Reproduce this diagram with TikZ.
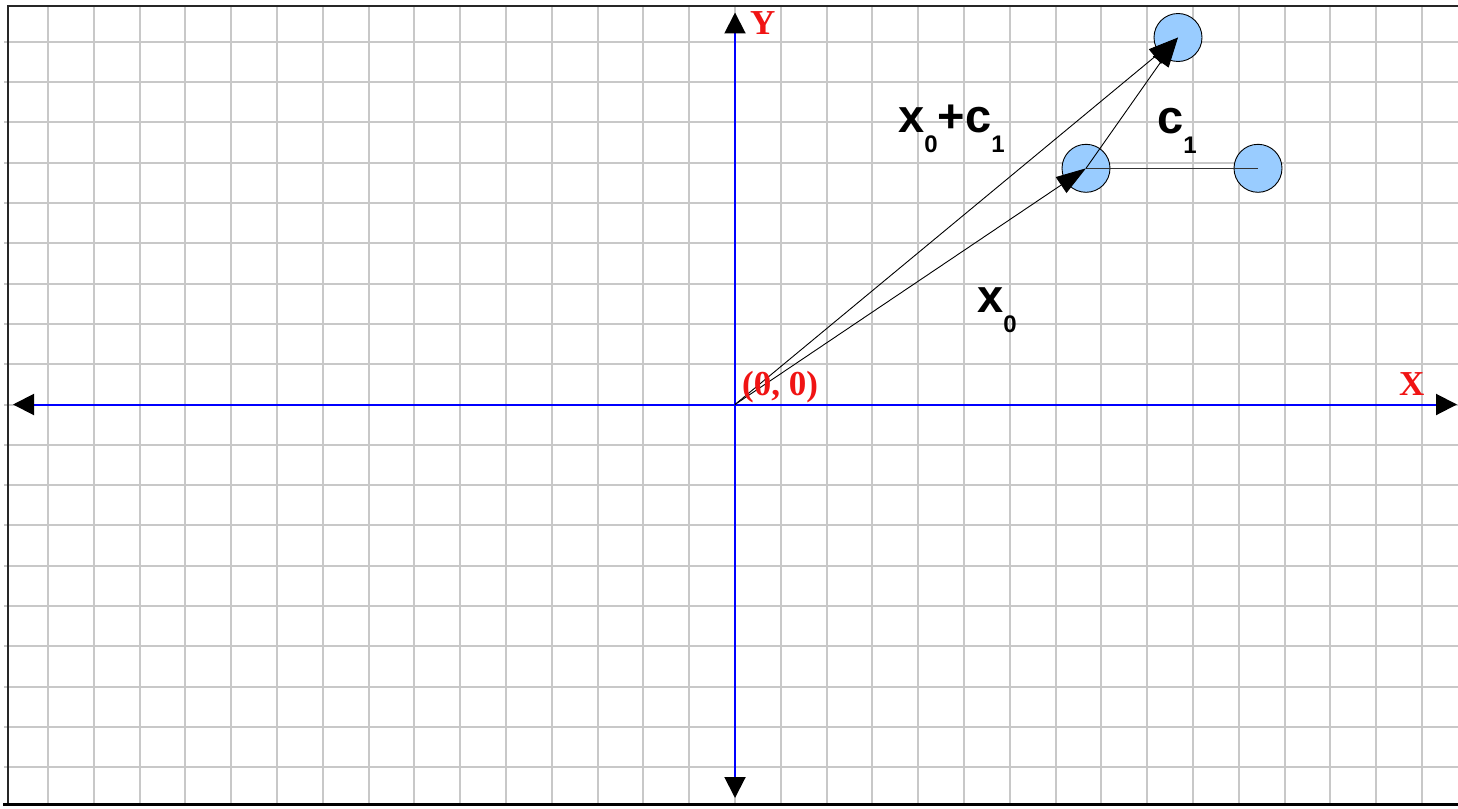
\documentclass[tikz,border=0pt]{standalone}
\usepackage{fontspec}
\setmainfont{Liberation Serif}
\newfontfamily\arialf{Liberation Sans}
\usetikzlibrary{arrows.meta}
\definecolor{gridc}{RGB}{200,200,200}
\definecolor{dotfill}{RGB}{153,204,255}
\definecolor{axisblue}{RGB}{0,0,255}
\definecolor{lblred}{RGB}{240,20,20}
\newcommand\lowsub[1]{\raisebox{-20pt}{\fontsize{24}{24}\selectfont #1}}
\tikzset{
  gridline/.style={draw=gridc, line width=2pt},
  framel/.style={draw=black!85, line width=2pt},
  axisline/.style={draw=axisblue, line width=2pt,
    {Triangle[length=21pt,width=21pt,color=black]}-{Triangle[length=21pt,width=21pt,color=black]}},
  dot/.style={circle, draw=black, line width=0.9pt, fill=dotfill, minimum size=48pt, inner sep=0pt},
  vec/.style={draw=black, line width=0.9pt, -{Triangle[length=30pt,width=19pt]}},
  link/.style={draw=black!80, line width=1.2pt},
  vlabel/.style={font=\arialf\bfseries\fontsize{47}{47}\selectfont, inner sep=0pt, anchor=base west},
  redlabel/.style={text=lblred, font=\bfseries\fontsize{35}{35}\selectfont, inner sep=0pt, anchor=base west}
}
\begin{document}
\begin{tikzpicture}[x=1pt,y=-1pt]
\useasboundingbox (0,0) rectangle (1458,808);
% grid
\foreach \k in {-15,...,15} {
  \draw[gridline] ({735+45.8*\k},6) -- ({735+45.8*\k},804);
}
\foreach \k in {-9,...,9} {
  \draw[gridline] (4,{404.5+40.3*\k}) -- (1458,{404.5+40.3*\k});
}
% frame
\draw[framel] (8,6.5) -- (1458,6.5);
\draw[framel] (8,5.5) -- (8,804);
\draw[draw=black, line width=3pt] (3,804.5) -- (1458,804.5);
% axes
\coordinate (xl) at (13,404.5);
\coordinate (xr) at (1457,404.5);
\coordinate (yt) at (735,12.5);
\coordinate (yb) at (735,798);
\coordinate (o) at (735,404.5);
\draw[axisline] (xl) -- (xr);
\draw[axisline] (yb) -- (yt);
% points
\node[dot] (p0) at (1086,168.3) {};
\node[dot] (p1) at (1178,37.5) {};
\node[dot] (p2) at (1258,168.3) {};
% vectors
\draw[link] (p0.center) -- (p2.center);
\draw[vec] (o) -- (p0.center);
\draw[vec] (o) -- (p1.center);
\draw[vec] (p0.center) -- (p1.center);
% labels
\node[vlabel] (lsum) at (898,132) {x\lowsub{0}+c\lowsub{1}};
\node[vlabel] (lc) at (1157,133) {c\lowsub{1}};
\node[vlabel] (lx) at (977,312) {x\lowsub{0}};
\node[redlabel] (ly) at (750,35) {Y};
\node[redlabel] (lxa) at (1399,395) {X};
\node[redlabel] (lo) at (742,395) {(0, 0)};
\end{tikzpicture}
\end{document}
